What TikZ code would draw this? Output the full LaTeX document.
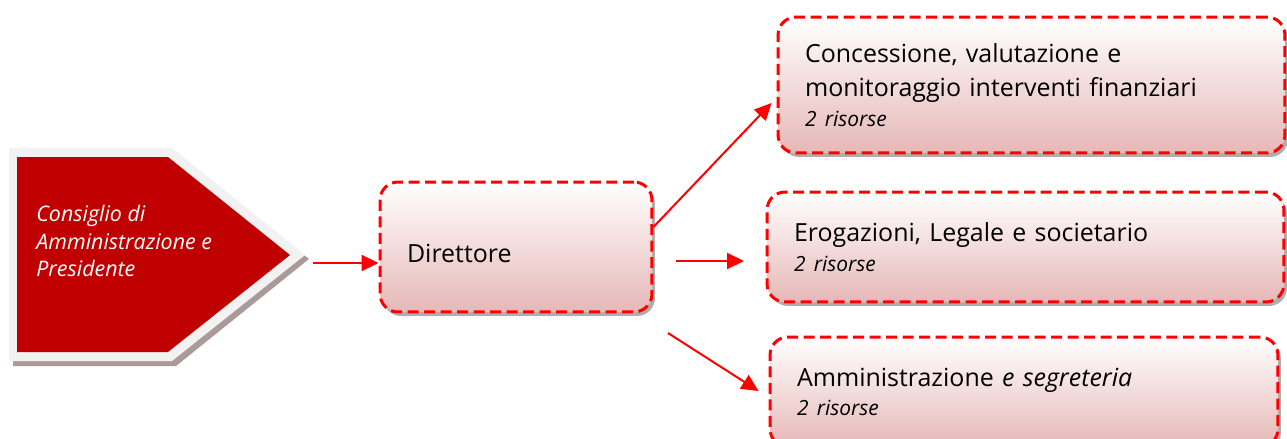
\documentclass[tikz,border=0pt]{standalone}
\usepackage{fontspec}
\setmainfont{Open Sans}
\usetikzlibrary{arrows.meta,shadows}
\definecolor{cdared}{HTML}{C00000}
\definecolor{cdaborder}{HTML}{F2F2F2}
\definecolor{cdashadow}{HTML}{AB9A9A}
\definecolor{boxpink}{HTML}{E6B8B7}
\definecolor{linered}{HTML}{FF0000}
\newcommand{\risorse}{{\fontsize{11.9pt}{14pt}\selectfont\itshape 2 risorse}}
\begin{document}
\begin{tikzpicture}[x=0.02cm,y=-0.02cm,
  unit box/.style={draw=linered, line width=0.06cm, dash pattern=on 0.22cm off 0.11cm,
    rounded corners=0.36cm, top color=white, bottom color=boxpink,
    drop shadow={shadow xshift=0.06cm, shadow yshift=-0.08cm, fill=black!45, opacity=0.7},
    align=left, inner xsep=0.54cm, inner ysep=0pt, font=\fontsize{14.2pt}{19.8pt}\selectfont},
  conn/.style={-{Triangle[length=0.34cm,width=0.32cm]}, draw=linered, line width=0.04cm}]
    \clip (0,0) rectangle (1287,439);
    \fill[white] (0,0) rectangle (1287,439);
    \fill[cdashadow] (13,153) -- (176,153) -- (309,259) -- (176,366) -- (13,366) -- cycle;
    \fill[cdaborder] (9,148) -- (172,148) -- (305,255) -- (172,361) -- (9,361) -- cycle;
    \fill[cdared] (17,157) -- (168,157) -- (290,255) -- (168,352) -- (17,352) -- cycle;
    \node[text=white, font=\fontsize{12.2pt}{15.8pt}\selectfont\itshape, align=left, anchor=west, inner sep=0pt] (cda) at (36,241) {Consiglio di\\Amministrazione e\\Presidente};
    \node[unit box, minimum height=2.6cm, text width=4.36cm, text height=0.64cm, text depth=0pt] (dir) at (516,247) {Direttore};
    \node[unit box, minimum height=2.72cm, text width=9.06cm] (c1) at (1031.5,85) {Concessione, valutazione e\\monitoraggio interventi finanziari\\[-2.8pt]\risorse};
    \node[unit box, minimum height=2.2cm, text width=9.26cm] (c2) at (1025.5,247) {Erogazioni, Legale e societario\\[-2.8pt]\risorse};
    \node[unit box, minimum height=2.2cm, text width=9.08cm] (c3) at (1024,392) {Amministrazione \textit{e segreteria}\\[-2.8pt]\risorse};
    \coordinate (a1) at (313,263);
    \coordinate (a3s) at (676,261);
    \coordinate (a3e) at (744,261);
    \coordinate (a4s) at (668,333);
    \draw[conn] (a1) -- (a1 -| dir.west);
    \draw[conn] ([yshift=0.4cm]dir.east) -- ([xshift=-0.1cm,yshift=-0.36cm]c1.west);
    \draw[conn] (a3s) -- (a3e);
    \draw[conn] (a4s) -- ([xshift=-0.2cm,yshift=0.02cm]c3.west);
\end{tikzpicture}
\end{document}
